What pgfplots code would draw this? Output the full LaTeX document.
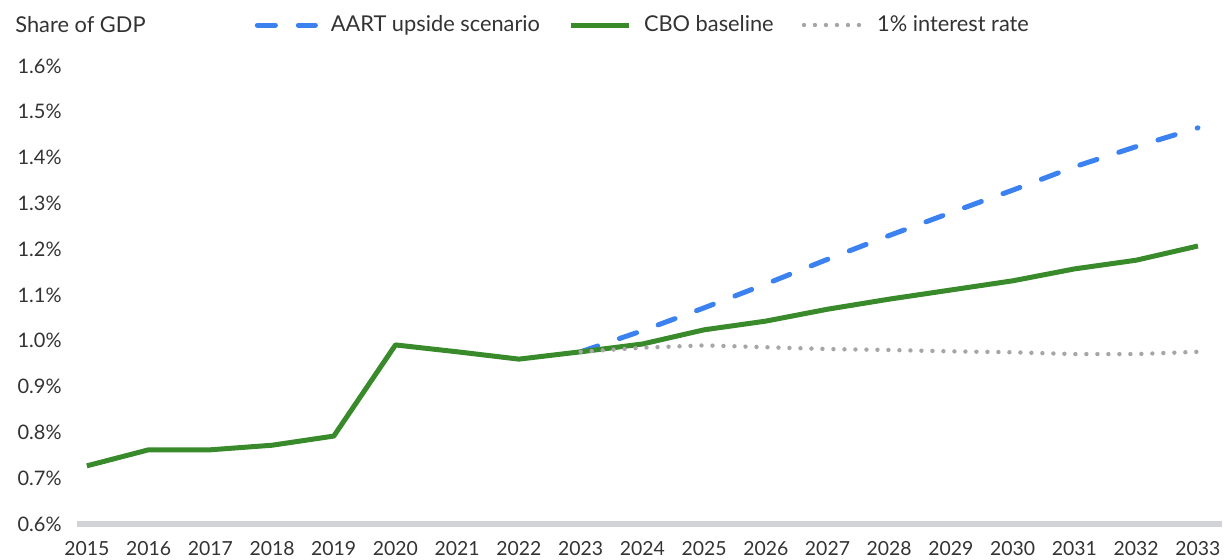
\documentclass[border=0pt]{standalone}
\usepackage{pgfplots}
\pgfplotsset{compat=1.18}
\usepackage{fontspec}
\setmainfont{Lato}
\definecolor{cblue}{HTML}{3B82F0}
\definecolor{cgreen}{HTML}{388A2B}
\definecolor{cgray}{HTML}{A6A6A6}
\definecolor{caxis}{HTML}{D2D3D7}
\definecolor{ctext}{HTML}{333333}
\begin{document}
\begin{tikzpicture}
\begin{axis}[
  at={(38.5pt,17.5pt)}, anchor=south west,
  scale only axis, width=572.5pt, height=229pt,
  xmin=2014.84, xmax=2033.39, ymin=0.6, ymax=1.6,
  axis x line*=bottom, axis y line*=left,
  x axis line style={caxis, line width=3pt, -},
  y axis line style={draw=none},
  xtick={2015,...,2033}, ytick={0.6,0.7,...,1.6},
  major tick length=0pt,
  /pgf/number format/assume math mode=true,
  x tick label style={/pgf/number format/1000 sep={}, font=\fontsize{9.7pt}{11pt}\selectfont, text=ctext, inner sep=0pt, anchor=north, yshift=-8.5pt},
  yticklabel={\pgfmathprintnumber[fixed,precision=1,fixed zerofill]{\tick}\%},
  y tick label style={font=\fontsize{10pt}{11pt}\selectfont, text=ctext, inner sep=0pt, anchor=east, xshift=-7.5pt},
  ymajorgrids=false, xmajorgrids=false,
  clip=false,
  legend columns=3,
  legend style={at={(0.155,1.0895)}, anchor=west, draw=none, fill=none, inner sep=0pt,
    nodes={inner sep=0pt},
    font=\fontsize{10.9pt}{12pt}\selectfont, text=ctext,
    /tikz/every even column/.append style={column sep=14pt},
    /tikz/every odd column/.append style={column sep=6.5pt}},
  legend image code/.code={\draw[#1] (0pt,0pt) -- (29pt,0pt);},
]
\addplot[cblue, line width=2.5pt, line cap=round, dash pattern=on 9pt off 11.5pt] coordinates {
(2023,0.976) (2024,1.022) (2025,1.072) (2026,1.124) (2027,1.178) (2028,1.230) (2029,1.280) (2030,1.329) (2031,1.380) (2032,1.424) (2033,1.465)};
\addlegendentry{AART upside scenario}
\addplot[cgreen, line width=2.5pt, line join=round] coordinates {
(2015,0.727) (2016,0.762) (2017,0.762) (2018,0.772) (2019,0.792) (2020,0.991) (2021,0.976) (2022,0.960) (2023,0.976) (2024,0.993) (2025,1.024) (2026,1.043) (2027,1.069) (2028,1.091) (2029,1.111) (2030,1.131) (2031,1.157) (2032,1.176) (2033,1.207)};
\addlegendentry{CBO baseline}
\addplot[cgray, line width=2.2pt, line cap=round, dash pattern=on 0pt off 5.5pt] coordinates {
(2023,0.976) (2024,0.985) (2025,0.990) (2026,0.986) (2027,0.982) (2028,0.980) (2029,0.977) (2030,0.975) (2031,0.971) (2032,0.971) (2033,0.976)};
\addlegendentry{1\% interest rate}
\end{axis}
\node[anchor=west, inner sep=0pt, font=\fontsize{10.9pt}{12pt}\selectfont, text=ctext] at (7.5pt,267pt) {Share of GDP};
\pgfresetboundingbox
\path[use as bounding box] (0,0) rectangle (613.5pt,279.5pt);
\end{tikzpicture}
\end{document}
